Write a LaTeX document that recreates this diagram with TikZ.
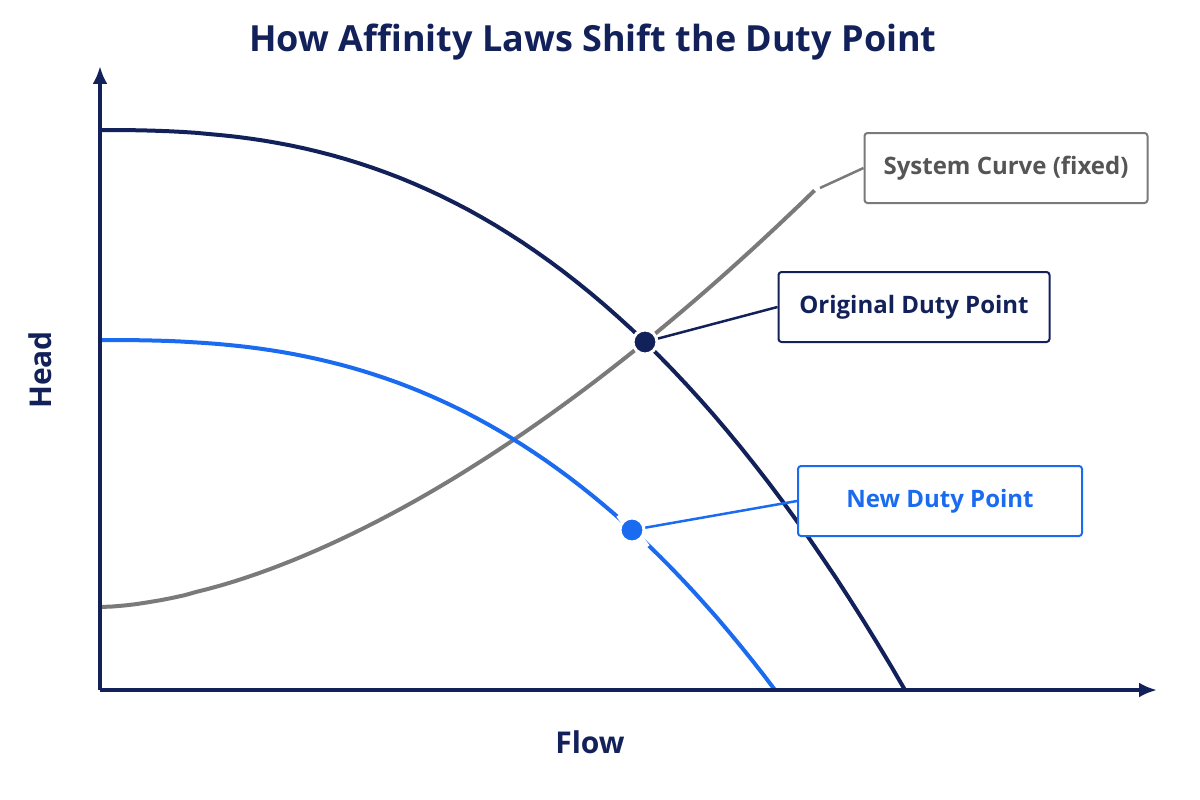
\documentclass[tikz,border=0pt]{standalone}
\usepackage{fontspec}
\setmainfont{Open Sans}
\usetikzlibrary{arrows.meta}
\definecolor{navy}{HTML}{13215A}
\definecolor{bl}{HTML}{1A6BF0}
\definecolor{gr}{HTML}{7A7A7A}
\begin{document}
\begin{tikzpicture}[x=1pt,y=-1pt,
  box/.style={draw,rounded corners=3pt,line width=2pt,minimum height=70pt,font=\fontsize{24}{28}\selectfont\bfseries,fill=white},
  crv/.style={line width=4pt}]
\useasboundingbox (0,0) rectangle (1200,800);
\node[font=\fontsize{36}{40}\selectfont\bfseries,text=navy] (title) at (593,42) {How Affinity Laws Shift the Duty Point};
\node[font=\fontsize{30}{34}\selectfont\bfseries,text=navy,rotate=90] (head) at (40,370) {Head};
\node[font=\fontsize{30}{34}\selectfont\bfseries,text=navy] (flow) at (590,742) {Flow};
\coordinate (o) at (100,690); \coordinate (yt) at (100,66); \coordinate (xt) at (1157,690);
\draw[gr,crv,domain=0:1,samples=60] plot ({100+715*\x},{607-417*(\x)^1.67});
\draw[bl,crv,domain=0:1,samples=60] plot ({100+675*\x},{340+350*(\x)^2.57});
\draw[white,line width=9pt] (620,514) -- (646,548);
\draw[navy,crv,domain=0:1,samples=60] plot ({100+805*\x},{130+560*(\x)^2.49});
\draw[navy,line width=3.5pt,-{Latex[length=18pt,width=15pt]}] (o) -- (yt);
\draw[navy,line width=3.5pt,-{Latex[length=18pt,width=15pt]}] (o) -- (xt);
\node[box,draw=gr,text=gr!70!black,minimum width=283pt] (sys) at (1006,168) {System Curve (fixed)};
\node[box,draw=navy,text=navy,minimum width=271pt] (orig) at (914,307) {Original Duty Point};
\node[box,draw=bl,text=bl,minimum width=284pt] (new) at (940,501) {New Duty Point};
\node[circle,fill=navy,draw=white,line width=3pt,minimum size=24pt,inner sep=0] (d1) at (645,342) {};
\node[circle,fill=bl,draw=white,line width=3pt,minimum size=24pt,inner sep=0] (d2) at (632,530) {};
\coordinate (se) at (820,188);
\draw[gr,line width=2.5pt] (se) -- (sys.west);
\draw[navy,line width=2.5pt] (d1) -- (orig.west);
\draw[bl,line width=2.5pt] (d2) -- (new.west);
\end{tikzpicture}
\end{document}
